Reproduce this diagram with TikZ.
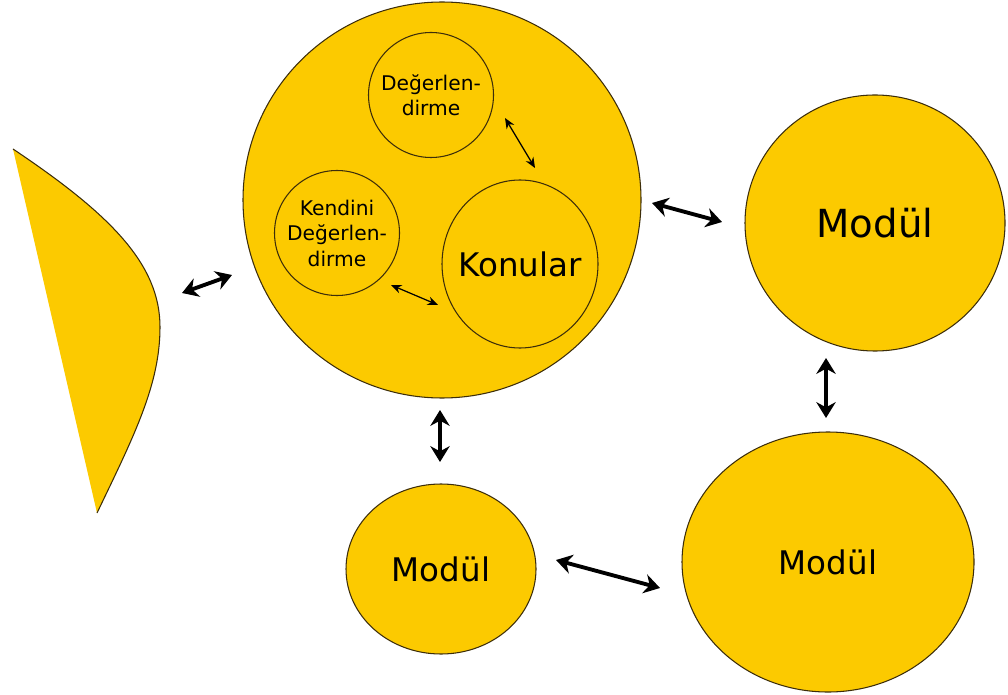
\documentclass[tikz,border=0pt]{standalone}
\usepackage{fontspec}
\setmainfont{DejaVu Sans}
\usetikzlibrary{positioning,shapes.geometric,arrows.meta}

\definecolor{gold}{RGB}{252,202,0}
\definecolor{rim}{RGB}{60,45,10}

\begin{document}
\begin{tikzpicture}[
	blob/.style={ellipse,draw=rim,line width=0.6pt,fill=gold,inner sep=0pt},
	small/.style={blob,minimum size=2.5cm},
	txt/.style={align=center,font=\fontsize{11.5}{14.5}\selectfont},
	bigarrow/.style={{Stealth[length=9pt,width=11pt]}-{Stealth[length=9pt,width=11pt]},line width=2.2pt},
	thinarrow/.style={{Stealth[length=6pt,width=5pt]}-{Stealth[length=6pt,width=5pt]},line width=0.7pt}]
	\useasboundingbox (0,0) rectangle (20.16,13.88);
	% left piece
	\fill[gold] (0.26,10.9) .. controls (2.2,9.6) and (3.2,8.6) .. (3.2,7.34)
		.. controls (3.2,6.2) and (2.7,5.2) .. (1.94,3.62) -- cycle;
	\draw[rim,line width=0.6pt] (0.26,10.9) .. controls (2.2,9.6) and (3.2,8.6) .. (3.2,7.34)
		.. controls (3.2,6.2) and (2.7,5.2) .. (1.94,3.62);
	% the core and what is in it
	\node[blob,minimum width=7.96cm,minimum height=7.92cm] (core) at (8.84,9.88) {};
	\node[small,label={[txt]center:Değerlen-\\dirme}] (deger) at (8.62,11.98) {};
	\node[small,label={[txt]center:Kendini\\Değerlen-\\dirme}] (kendini) at (6.74,9.22) {};
	\node[blob,minimum width=3.12cm,minimum height=3.36cm,
		label={[font=\fontsize{18.5}{22}\selectfont]center:Konular}] (konular) at (10.4,8.6) {};
	% modules
	\node[blob,minimum width=5.2cm,minimum height=5.12cm,
		label={[font=\fontsize{22}{26}\selectfont]center:Modül}] (modR) at (17.5,9.42) {};
	\node[blob,minimum width=3.8cm,minimum height=3.4cm,
		label={[font=\fontsize{18.5}{22}\selectfont]center:Modül}] (modM) at (8.82,2.5) {};
	\node[blob,minimum width=5.84cm,minimum height=5.2cm,
		label={[font=\fontsize{18.5}{22}\selectfont]center:Modül}] (modB) at (16.56,2.64) {};
	% arrow ends
	\coordinate (l1) at (3.64,8.02);
	\coordinate (l2) at (4.64,8.38);
	\coordinate (r1) at (13.04,9.82);
	\coordinate (r2) at (14.44,9.44);
	\coordinate (d1) at (8.8,5.68);
	\coordinate (d2) at (8.8,4.64);
	\coordinate (v1) at (16.52,6.72);
	\coordinate (v2) at (16.52,5.52);
	\coordinate (b1) at (11.12,2.68);
	\coordinate (b2) at (13.2,2.12);
	\coordinate (i1) at (10.1,11.52);
	\coordinate (i2) at (10.7,10.52);
	\coordinate (k1) at (7.82,8.18);
	\coordinate (k2) at (8.76,7.78);
	\draw[bigarrow] (l1) -- (l2);
	\draw[bigarrow] (r1) -- (r2);
	\draw[bigarrow] (d1) -- (d2);
	\draw[bigarrow] (v1) -- (v2);
	\draw[bigarrow] (b1) -- (b2);
	\draw[thinarrow] (i1) -- (i2);
	\draw[thinarrow] (k1) -- (k2);
\end{tikzpicture}
\end{document}
